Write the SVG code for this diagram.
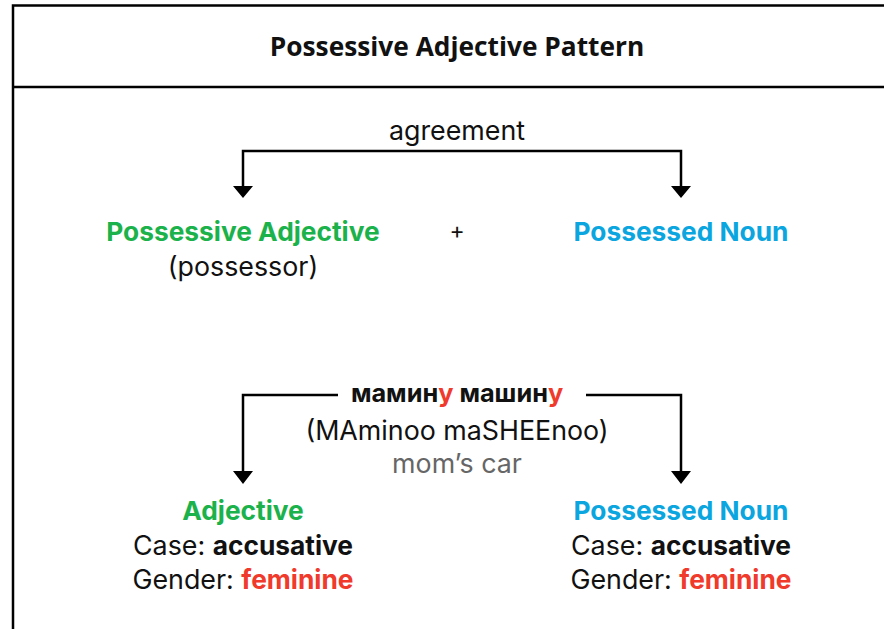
<svg xmlns="http://www.w3.org/2000/svg" width="884" height="629" viewBox="0 0 884 629">
<style>
.t{font-family:Inter,"Noto Sans",sans-serif;font-size:26.8px;fill:#111;text-anchor:middle}
.b{font-weight:700;font-size:26.3px}
.g{fill:#1CB24B}
.bl{fill:#0BA6DF}
.r{fill:#F03A2B}
.gr{fill:#666}
.ln{stroke:#000;stroke-width:2.5;fill:none}
</style>
<g id="frame">
<path d="M13,629 L13,5.5 L884,5.5" class="ln" stroke-width="3"/>
<line x1="13" y1="87" x2="884" y2="87" class="ln" stroke-width="3"/>
</g>
<g id="title"><text x="457" y="56" class="t b" style="font-family:'Open Sans',sans-serif;font-size:26.3px">Possessive Adjective Pattern</text></g>
<g id="connectors">
<path d="M243,186 L243,151 L681,151 L681,186" class="ln"/>
<path d="M233,186 L253,186 L243,198 Z M671,186 L691,186 L681,198 Z" fill="#000"/>
<path d="M338,395 L243,395 L243,472" class="ln"/>
<path d="M586,395 L681,395 L681,472" class="ln"/>
<path d="M233,471 L253,471 L243,484 Z M671,471 L691,471 L681,484 Z" fill="#000"/>
</g>
<g id="agreement"><text x="457" y="140" class="t">agreement</text></g>
<g id="possessive-adjective">
<text x="243" y="241" class="t b g">Possessive Adjective</text>
<text x="243" y="276" class="t">(possessor)</text>
</g>
<g id="plus"><text x="457" y="239" class="t" style="font-size:23px">+</text></g>
<g id="possessed-noun"><text x="681" y="241" class="t b bl">Possessed Noun</text></g>
<g id="example">
<text x="457" y="402" class="t b" style="font-size:25.3px">мамин<tspan class="r">у</tspan> машин<tspan class="r">у</tspan></text>
<text x="457" y="440" class="t">(MAminoo maSHEEnoo)</text>
<text x="457" y="473" class="t gr">mom’s car</text>
</g>
<g id="adjective">
<text x="243" y="520" class="t b g">Adjective</text>
<text x="243" y="555" class="t">Case: <tspan class="b">accusative</tspan></text>
<text x="243" y="589" class="t">Gender: <tspan class="b r">feminine</tspan></text>
</g>
<g id="noun">
<text x="681" y="520" class="t b bl">Possessed Noun</text>
<text x="681" y="555" class="t">Case: <tspan class="b">accusative</tspan></text>
<text x="681" y="589" class="t">Gender: <tspan class="b r">feminine</tspan></text>
</g>
</svg>
